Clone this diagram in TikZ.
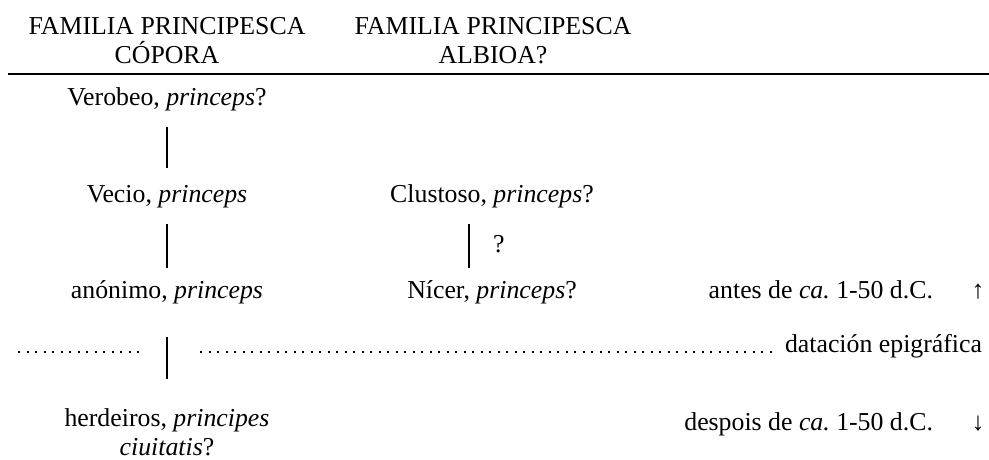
\documentclass[tikz,border=0pt]{standalone}
\usepackage{fontspec}
\setmainfont{Liberation Serif}
\usetikzlibrary{positioning}
\frenchspacing

\tikzset{
  famtext/.style={inner sep=0pt, outer sep=0pt, align=center,
    font=\fontsize{25.8}{29}\selectfont},
  famline/.style={line width=2pt, shorten <=16.5pt, shorten >=16.5pt},
  dotline/.style={line width=2pt, dash pattern=on 2pt off 6.5pt}
}

\begin{document}
\begin{tikzpicture}[x=1pt, y=-1pt]
            \useasboundingbox (0,0) rectangle (989,459);

            % Header
            \node[famtext, anchor=base] (hdrA) at (167,63) {FAMILIA PRINCIPESCA\\CÓPORA};
            \node[famtext, anchor=base] (hdrB) at (493,63) {FAMILIA PRINCIPESCA\\ALBIOA?};
            \coordinate (ruleL) at (8,74);
            \coordinate (ruleR) at (989,74);
            \draw[line width=1.7pt] (ruleL) -- (ruleR);

            % First generation
            \node[famtext, anchor=base] (verobeo) at (167,105) {Verobeo, \textit{princeps}?};

            % Second generation
            \node[famtext, anchor=base] (vecio) at (167,202) {Vecio, \textit{princeps}};
            \draw[famline] (verobeo) -- (vecio);
            \node[famtext, anchor=base] (clustoso) at (492,202) {Clustoso, \textit{princeps}?};

            % Third generation
            \node[famtext, anchor=base] (anonimo) at (167,298) {anónimo, \textit{princeps}};
            \draw[famline, shorten >=12.5pt] (vecio) -- (anonimo);
            \node[famtext, anchor=base] (nicer) at (492,298) {Nícer, \textit{princeps}?};
            \draw[famline, shorten >=12.5pt] ([xshift=-23pt]clustoso.south) -- ([xshift=-23pt]nicer.north)
              node[famtext, midway, right=24pt] (doubt) {?};
            \node[famtext, anchor=base east] (antes) at (933,298) {antes de \textit{ca.} 1-50 d.C.};
            \node[famtext, anchor=base] (up) at (978,298) {↑};

            % Epigraphic dating
            \node[famtext, anchor=base east] (datacion) at (982,352) {datación epigráfica};
            \coordinate (dotA) at (18,352);
            \coordinate (dotB) at (140,352);
            \coordinate (dotC) at (200,352);
            \draw[dotline] (dotA) -- (dotB);
            \draw[dotline] (dotC) -- ([xshift=-9pt]datacion.base west);

            % Heirs
            \node[famtext, anchor=base] (herdeiros) at (167,455) {herdeiros, \textit{principes}\\\textit{ciuitatis}?};
            \draw[famline, shorten <=33.5pt, shorten >=29.5pt] (anonimo) -- (herdeiros);
            \node[famtext, anchor=base east] (despois) at (933,430) {despois de \textit{ca.} 1-50 d.C.};
            \node[famtext, anchor=base] (down) at (978,430) {↓};
        \end{tikzpicture}
\end{document}
